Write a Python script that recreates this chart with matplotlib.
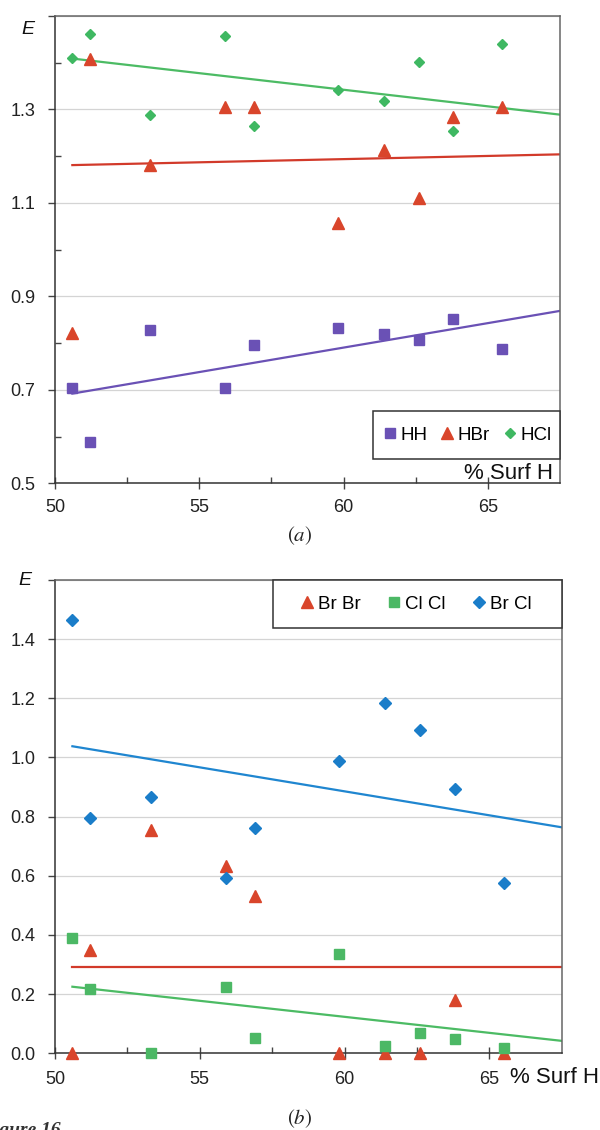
import numpy as np
import matplotlib
matplotlib.use("Agg")
import matplotlib.pyplot as plt
from matplotlib.patches import Rectangle
from matplotlib.ticker import FixedLocator

plt.rcParams["font.family"] = ["Liberation Sans", "DejaVu Sans"]
plt.rcParams["mathtext.fontset"] = "stix"

# shared % surface H values
surf_h = [50.6, 51.2, 53.3, 55.9, 56.9, 59.8, 61.4, 62.6, 63.8, 65.5]

# panel (a)
hh = [0.703, 0.588, 0.828, 0.704, 0.797, 0.832, 0.820, 0.807, 0.851, 0.788]
hbr = [0.822, 1.409, 1.182, 1.305, 1.306, 1.057, 1.213, 1.111, 1.284, 1.306]
hcl = [1.410, 1.462, 1.289, 1.457, 1.264, 1.341, 1.318, 1.402, 1.253, 1.441]

# panel (b)
brbr = [0.0, 0.349, 0.754, 0.633, 0.531, 0.0, 0.0, 0.0, 0.180, 0.0]
clcl = [0.390, 0.216, 0.0, 0.223, 0.053, 0.334, 0.025, 0.068, 0.047, 0.018]
brcl = [1.464, 0.796, 0.865, 0.593, 0.762, 0.989, 1.183, 1.092, 0.893, 0.574]

# trend lines (start at first point, run to right edge)
trend_x = [50.6, 67.5]
trend_hh = [0.692, 0.869]
trend_hbr = [1.181, 1.204]
trend_hcl = [1.409, 1.289]
trend_brbr = [0.293, 0.293]
trend_clcl = [0.225, 0.042]
trend_brcl = [1.038, 0.764]

PURPLE = "#6a51b5"
RED = "#d9452b"
GREEN = "#3fb862"
BLUE = "#1a7dc9"

fig = plt.figure(figsize=(6, 11.3), dpi=100)
ax1 = fig.add_axes([0.0917, 0.5723, 0.8417, 0.4135])
ax2 = fig.add_axes([0.0917, 0.0679, 0.8445, 0.4188])


def style_axes(ax, ymin, ymax, ystep, xpad):
    ax.set_xlim(50, 67.5)
    ax.set_ylim(ymin, ymax)
    ax.xaxis.set_major_locator(FixedLocator([50, 55, 60, 65]))
    ax.xaxis.set_minor_locator(FixedLocator([52.5, 57.5, 62.5]))
    yt = np.arange(ymin, ymax + 1e-9, ystep)
    ax.yaxis.set_major_locator(FixedLocator(yt))
    ax.set_yticklabels([f"{v:.1f}" if v < ymax - 1e-9 else "" for v in yt])
    ax.tick_params(axis="x", which="major", direction="inout", length=9, width=1,
                   color="#444", labelsize=13, pad=xpad, labelcolor="#222")
    ax.tick_params(axis="x", which="minor", direction="in", length=4, width=1, color="#444")
    ax.tick_params(axis="y", which="major", direction="out", length=5, width=1,
                   color="#444", labelsize=13, pad=9, labelcolor="#222")
    ax.tick_params(axis="y", which="minor", direction="in", length=4, width=1, color="#444")
    ax.tick_params(top=False, right=False)
    for s in ["left", "bottom"]:
        ax.spines[s].set_color("#333")
        ax.spines[s].set_linewidth(1.1)
    for s in ["top", "right"]:
        ax.spines[s].set_color("#666")
        ax.spines[s].set_linewidth(1.1)
    ax.grid(True, axis="y", which="major", color="#d4d4d4", linewidth=0.9)
    ax.set_axisbelow(True)


# ---- panel (a)
style_axes(ax1, 0.5, 1.5, 0.2, 7)
ax1.yaxis.set_minor_locator(FixedLocator([0.6, 0.8, 1.0, 1.2, 1.4]))
ax1.plot(trend_x, trend_hh, color=PURPLE, lw=1.6, zorder=2)
ax1.plot(trend_x, trend_hbr, color="#d23a2a", lw=1.6, zorder=2)
ax1.plot(trend_x, trend_hcl, color="#4cbb64", lw=1.6, zorder=2)
ax1.plot(surf_h, hh, "s", color=PURPLE, ms=7, ls="none", label="HH", zorder=3)
ax1.plot(surf_h, hbr, "^", color=RED, ms=8.7, ls="none", label="HBr", zorder=3)
ax1.plot(surf_h, hcl, "D", color=GREEN, ms=5.5, ls="none", label="HCl", zorder=3)

ax1.add_patch(Rectangle((0.629, 0.052), 0.371, 0.1027, transform=ax1.transAxes,
                        facecolor="white", edgecolor="#333", lw=1.1, zorder=4, clip_on=False))
ax1.legend(loc="center left", bbox_to_anchor=(0.652, 0.1034), frameon=False, ncol=3,
           fontsize=13.5, handlelength=0.6, handletextpad=0.27, columnspacing=0.75,
           borderpad=0, borderaxespad=0).set_zorder(5)
ax1.text(0.9856, 0.0086, "% Surf H", transform=ax1.transAxes, ha="right", va="baseline",
         fontsize=16, color="#111", zorder=6)
ax1.text(-0.0535, 0.972, "E", transform=ax1.transAxes, ha="center", va="center",
         fontsize=14, style="italic", color="#111")

# ---- panel (b)
style_axes(ax2, 0.0, 1.6, 0.2, 8)
ax2.plot(trend_x, trend_brcl, color="#1f86d0", lw=1.6, zorder=2)
ax2.plot(trend_x, trend_brbr, color="#d23a2a", lw=1.6, zorder=2)
ax2.plot(trend_x, trend_clcl, color="#4cbb64", lw=1.6, zorder=2)
ax2.plot(surf_h, brbr, "^", color=RED, ms=8.5, ls="none", label="Br Br", zorder=3, clip_on=False)
ax2.plot(surf_h, clcl, "s", color="#4cb865", ms=7, ls="none", label="Cl Cl", zorder=3, clip_on=False)
ax2.plot(surf_h, brcl, "D", color=BLUE, ms=5.8, ls="none", label="Br Cl", zorder=3)

ax2.add_patch(Rectangle((0.4308, 0.898), 0.5692, 0.102, transform=ax2.transAxes,
                        facecolor="white", edgecolor="#333", lw=1.1, zorder=4, clip_on=False))
ax2.legend(loc="center left", bbox_to_anchor=(0.4867, 0.949), frameon=False, ncol=3,
           fontsize=13.5, handlelength=0.6, handletextpad=0.27, columnspacing=1.5,
           borderpad=0, borderaxespad=0).set_zorder(5)
ax2.text(0.898, -0.0634, "% Surf H", transform=ax2.transAxes, ha="left", va="baseline",
         fontsize=16, color="#111", clip_on=False)
ax2.text(-0.060, 0.998, "E", transform=ax2.transAxes, ha="center", va="center",
         fontsize=14, style="italic", color="#111")

# captions
fig.text(0.5, 1 - 536 / 1130, r"$(a)$", ha="center", va="center", fontsize=15, color="#222")
fig.text(0.5, 1 - 1119 / 1130, r"$(b)$", ha="center", va="center", fontsize=15, color="#222")
fig.text(-0.031, 1 - 1122 / 1130, "Figure 16", ha="left", va="top", fontsize=14,
         family="Liberation Serif", weight="bold", style="italic", color="#333")

fig.savefig("out.png", dpi=100)
